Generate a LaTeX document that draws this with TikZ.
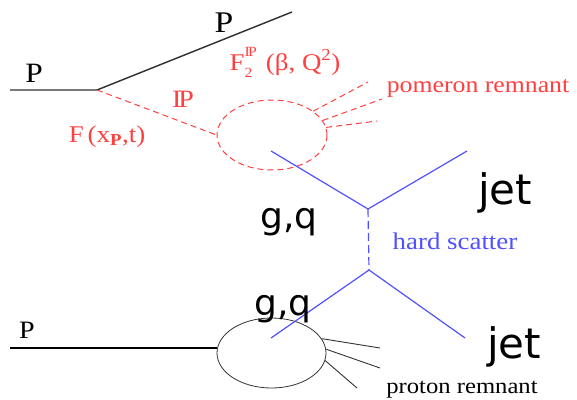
\documentclass[tikz,border=0pt]{standalone}
\usepackage{fontspec}
\setmainfont{Liberation Serif}
\newfontfamily\labelfont[FakeStretch=1.12]{Liberation Serif}
\newfontfamily\jetfont{DejaVu Sans}
\usetikzlibrary{shapes.geometric}

\definecolor{pomred}{RGB}{255,64,64}
\definecolor{hardblue}{RGB}{80,80,255}

\newcommand{\pomsym}{I\kern-0.12em P}
\newcommand{\fsize}[1]{\fontsize{#1}{#1}\selectfont}

\tikzset{
	beam/.style={line width=1.4pt, black!80},
	pomline/.style={pomred, line width=1pt, dash pattern=on 6pt off 4pt},
	partonline/.style={hardblue, line width=1.2pt},
	pomblob/.style={ellipse, draw=pomred, line width=1pt, dash pattern=on 6pt off 4pt, minimum width=110pt, minimum height=70pt, inner sep=0pt},
	protblob/.style={ellipse, draw=black!80, line width=0.8pt, minimum width=109pt, minimum height=70pt, inner sep=0pt},
	redlabel/.style={text=pomred, inner sep=0pt, anchor=base, font=\labelfont},
	blacklabel/.style={text=black, inner sep=0pt, anchor=base, font=\labelfont},
	jetlabel/.style={inner sep=0pt, font=\jetfont\fsize{42}},
	partonlabel/.style={inner sep=0pt, font=\jetfont\fsize{36}}
}

\begin{document}
\begin{tikzpicture}[x=1pt,y=-1pt]
	\useasboundingbox (0,0) rectangle (577,399);

	\coordinate (pin) at (10,90);
	\coordinate (pvtx) at (97,90);
	\coordinate (pout) at (292,12);
	\coordinate (protin) at (10,348);

	\node (pom) [pomblob] at (272,135) {};
	\node (prot) [protblob] at (271.5,353) {};

	\coordinate (pomrem1) at (368,82);
	\coordinate (pomrem2) at (382,99);
	\coordinate (pomrem3) at (377,121);
	\coordinate (protrem1) at (380,348);
	\coordinate (protrem2) at (380,368);
	\coordinate (protrem3) at (357,388);

	\coordinate (hardtop) at (368,209);
	\coordinate (hardbot) at (369,270);
	\coordinate (partontop) at (271,151);
	\coordinate (partonbot) at (271,338);
	\coordinate (jettop) at (467,151);
	\coordinate (jetbot) at (465,338);

	% beams
	\draw[beam] (pin) -- (pvtx) -- (pout);
	\draw[black, line width=2.4pt] (protin) -- (protin -| prot.west);

	% pomeron
	\draw[pomline] (pvtx) -- (pom.west);
	\draw[pomline] (pom.30) -- (pomrem1);
	\draw[pomline] (pom.16) -- (pomrem2);
	\draw[pomline] (pom.8) -- (pomrem3);

	% proton remnant
	\draw[black!80, line width=0.9pt] (prot.16) -- (protrem1);
	\draw[black!80, line width=0.9pt] (prot.4) -- (protrem2);
	\draw[black!80, line width=0.9pt] (prot.-8) -- (protrem3);

	% hard scatter
	\draw[partonline] (partontop) -- (hardtop) -- (jettop);
	\draw[partonline, dash pattern=on 8pt off 4pt] (hardtop) -- (hardbot);
	\draw[partonline] (partonbot) -- (hardbot) -- (jetbot);

	% labels
	\node (plab1) [blacklabel, font=\labelfont\fsize{28}] at (34,82) {P};
	\node (plab2) [blacklabel, font=\labelfont\fsize{30}] at (224,32) {P};
	\node (plab3) [blacklabel, font=\labelfont\fsize{25}] at (27,338) {P};
	\node (pomlab) [redlabel, font=\labelfont\fsize{25}] at (183,107) {\pomsym};
	\node (fluxlab) [redlabel, font=\labelfont\fsize{24}] at (107,142) {F\,(x\textsubscript{\textbf{P}},t)};
	\node (sflab) [redlabel, font=\labelfont\fsize{24}] at (285,70) {F\rlap{\raisebox{0.55em}{\fsize{14}\pomsym}}\raisebox{-0.3em}{\fsize{14}2}\ \ (β, Q\textsuperscript{2})};
	\node (pomremlab) [redlabel, font=\labelfont\fsize{23}] at (478,92) {pomeron remnant};
	\node (hardlab) [blacklabel, text=hardblue, font=\labelfont\fsize{24}] at (455,249) {hard scatter};
	\node (protremlab) [blacklabel, font=\labelfont\fsize{22}] at (462,393) {proton remnant};
	\node (jetlab1) [jetlabel] at (505,193) {jet};
	\node (jetlab2) [jetlabel] at (514,347) {jet};
	\node (gqlab1) [partonlabel] at (289,222) {g,q};
	\node (gqlab2) [partonlabel] at (283,309) {g,q};
\end{tikzpicture}
\end{document}
